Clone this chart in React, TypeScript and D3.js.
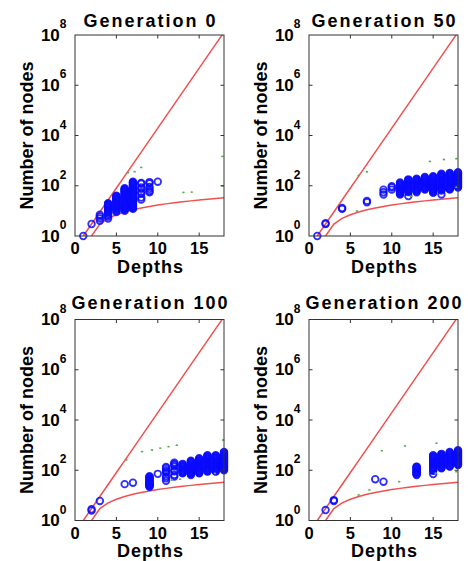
import React from "react";
import * as d3 from "d3";

const W = 468;
const H = 561;

// ---------- data ----------
const titles = ["Generation 0", "Generation 50", "Generation 100", "Generation 200"];
const depthTicks = [0, 5, 10, 15];
const yTickExponents = [0, 2, 4, 6, 8];
const depthDomain: [number, number] = [0, 18];
const nodeDomain: [number, number] = [1, 1e8];

// upper (red) bound
const upperDepths = [1, 2, 3, 4, 5, 6, 7, 8, 9, 10, 11, 12, 13, 14, 15, 16, 17, 18];
const upperBound = [
  1, 3, 9, 27, 81, 243, 729, 2187, 6561, 19683, 59049, 177147, 531441, 1594323,
  4782969, 14348907, 43046721, 129140163,
];
// lower (red) bound
const lowerDepths = [2, 3, 4, 5, 6, 7, 8, 9, 10, 11, 12, 13, 14, 15, 16, 17, 18];
const lowerBound = [1, 3, 5, 7, 9, 11, 13, 15, 17, 19, 21, 23, 25, 27, 29, 31, 33];

type Column = [number, number[]];

const gen0Nodes: Column[] = [
  [1, [1]],
  [2, [3]],
  [3, [4, 5, 6, 7]],
  [4, [5, 6, 7, 8, 9, 10, 11, 12, 13, 14, 15, 16, 17, 18, 19, 20]],
  [5, [9, 10, 11, 12, 13, 14, 15, 16, 17, 18, 19, 20, 22, 24, 26, 28, 30, 32, 34, 36, 38, 40]],
  [6, [10, 11, 12, 13, 14, 15, 16, 17, 18, 19, 20, 22, 24, 26, 28, 30, 32, 35, 38, 41, 44, 48, 52, 56, 60, 65, 70, 75, 80]],
  [7, [12, 13, 14, 15, 16, 17, 18, 19, 20, 22, 24, 26, 28, 30, 32, 35, 38, 41, 44, 48, 52, 56, 60, 65, 70, 75, 80, 86, 92, 100, 108, 116, 125, 135, 145]],
  [8, [28, 34, 48, 55, 75, 85, 120, 130]],
  [9, [55, 62, 75, 90, 125, 140]],
  [10, [145]],
];
const gen50Nodes: Column[] = [
  [1, [1]],
  [2, [3, 3.2]],
  [4, [12, 13]],
  [7, [22, 25]],
  [9, [45, 55, 70]],
  [10, [70, 85, 95]],
  [11, [45, 48, 52, 56, 60, 65, 70, 75, 80, 86, 92, 100, 108, 116, 125, 135]],
  [12, [39, 56, 60, 65, 70, 75, 80, 86, 92, 100, 108, 116, 125, 135, 145, 156, 168, 180]],
  [13, [55, 60, 65, 70, 75, 80, 86, 92, 100, 108, 116, 125, 135, 145, 156, 168, 180, 190]],
  [14, [70, 75, 80, 86, 92, 100, 108, 116, 125, 135, 145, 156, 168, 180, 195, 210, 225]],
  [15, [52, 56, 60, 65, 70, 75, 80, 86, 92, 100, 108, 116, 125, 135, 145, 156, 168, 180, 195, 210, 225, 240]],
  [16, [45, 65, 70, 75, 80, 86, 92, 100, 108, 116, 125, 135, 145, 156, 168, 180, 195, 210, 225, 242, 260, 280, 300]],
  [17, [70, 75, 80, 86, 92, 100, 108, 116, 125, 135, 145, 156, 168, 180, 195, 210, 225, 242, 260, 280, 300, 325]],
  [18, [85, 92, 100, 108, 116, 125, 135, 145, 156, 168, 180, 195, 210, 225, 242, 260, 280, 300, 325, 348]],
];
const gen100Nodes: Column[] = [
  [2, [2.5, 2.8]],
  [3, [6]],
  [6, [28]],
  [7, [32]],
  [9, [22, 23, 24, 25, 26, 27, 28, 30, 32, 34, 36, 38, 40, 43, 46, 50, 54, 58]],
  [10, [72]],
  [11, [38, 48, 56, 80, 88, 100, 120, 135]],
  [12, [56, 65, 90, 100, 140, 160, 180, 200]],
  [13, [76, 80, 86, 92, 100, 108, 116, 125, 135, 145, 156, 168, 180]],
  [14, [65, 70, 75, 80, 86, 92, 100, 108, 116, 125, 135, 145, 156, 168, 180, 195, 210, 225, 240]],
  [15, [76, 80, 86, 92, 100, 108, 116, 125, 135, 145, 156, 168, 180, 195, 210, 225, 242, 260, 280, 300]],
  [16, [88, 92, 100, 108, 116, 125, 135, 145, 156, 168, 180, 195, 210, 225, 242, 260, 280, 300, 325, 350, 375, 400]],
  [17, [88, 92, 100, 108, 116, 125, 135, 145, 156, 168, 180, 195, 210, 225, 242, 260, 280, 300, 325, 350, 375, 400]],
  [18, [100, 108, 116, 125, 135, 145, 156, 168, 180, 195, 210, 225, 242, 260, 280, 300, 325, 350, 375, 400, 430, 465, 500, 540]],
];
const gen200Nodes: Column[] = [
  [2, [2.6]],
  [3, [6, 6.5]],
  [8, [44]],
  [9, [35]],
  [13, [65, 70, 75, 80, 86, 92, 100, 108, 116, 125, 135, 140]],
  [15, [71, 96, 100, 108, 116, 125, 135, 145, 156, 168, 180, 195, 210, 225, 242, 260, 280, 300, 325, 350, 375, 400]],
  [16, [120, 125, 135, 145, 156, 168, 180, 195, 210, 225, 242, 260, 280, 300, 325, 350, 375, 400, 430, 450]],
  [17, [140, 145, 156, 168, 180, 195, 210, 225, 242, 260, 280, 300, 325, 350, 375, 400, 430, 465, 500, 540]],
  [18, [160, 168, 180, 195, 210, 225, 242, 260, 280, 300, 325, 350, 375, 400, 430, 465, 500, 540, 580, 625]],
];

type Pt = [number, number];
const gen0Extra: Pt[] = [[6.4, 331], [7.2, 363], [8.0, 537], [13.1, 54], [14.1, 56], [17.8, 1480], [17.8, 98]];
const gen50Extra: Pt[] = [[6.0, 257], [7.0, 360], [5.8, 10], [14.6, 930], [16.3, 1110], [17.8, 1200], [12.3, 38], [17.8, 88]];
const gen100Extra: Pt[] = [[6.2, 257], [8.1, 550], [9.3, 640], [10.3, 760], [11.3, 870], [12.3, 1000], [11.7, 41], [12.7, 44], [17.9, 1600], [16.9, 75]];
const gen200Extra: Pt[] = [[8.8, 600], [11.6, 930], [15.4, 1200], [10.9, 35], [7.3, 16.5], [6.0, 10.4], [15.3, 76], [17.8, 88]];

const nodeSets = [gen0Nodes, gen50Nodes, gen100Nodes, gen200Nodes];
const extraSets = [gen0Extra, gen50Extra, gen100Extra, gen200Extra];

// ---------- layout ----------
const PW = 149;
const PH = 201;
const panelLeft = [75, 309, 75, 309];
const panelTop = [35, 35, 319.5, 319.5];
const titleGap = [8.5, 8.5, 11, 11];
const xlabelGap = [36.5, 36.5, 36.5, 36.5];

const FONT = "'Liberation Sans', Arial, Helvetica, sans-serif";
const RED = "#f05050";
const BLUE = "#0a0aff";
const GREEN = "#55b055";
const AXIS = "#333";

function Panel({ i }: { i: number }) {
  const left = panelLeft[i];
  const top = panelTop[i];
  const x = d3.scaleLinear().domain(depthDomain).range([left, left + PW]);
  const y = d3.scaleLog().domain(nodeDomain).range([top + PH, top]);
  const line = d3
    .line<[number, number]>()
    .x((d) => x(d[0]))
    .y((d) => y(d[1]));
  const upper = line(upperDepths.map((d, k) => [d, upperBound[k]] as [number, number])) || "";
  const lower = line(lowerDepths.map((d, k) => [d, lowerBound[k]] as [number, number])) || "";
  const clipId = `clip${i}`;
  const bottom = top + PH;
  const right = left + PW;
  const cx = left + PW / 2;
  const cy = top + PH / 2;
  return (
    <g>
      <defs>
        <clipPath id={clipId}>
          <rect x={left} y={top} width={PW} height={PH} />
        </clipPath>
      </defs>
      <g clipPath={`url(#${clipId})`}>
        <path d={upper} fill="none" stroke={RED} strokeWidth={1.5} />
        <path d={lower} fill="none" stroke={RED} strokeWidth={1.5} />
      </g>
      {nodeSets[i].map(([d, vals]) =>
        vals.map((v, k) => (
          <circle
            key={`${d}-${k}`}
            cx={x(d)}
            cy={y(v)}
            r={3.3}
            fill="none"
            stroke={BLUE}
            strokeOpacity={0.85}
            strokeWidth={1.8}
          />
        ))
      )}
      {extraSets[i].map(([d, v], k) => (
        <ellipse key={k} cx={x(d)} cy={y(v)} rx={1.3} ry={0.9} fill={GREEN} />
      ))}
      {/* box */}
      <rect x={left} y={top} width={PW} height={PH} fill="none" stroke={AXIS} strokeWidth={1} />
      {/* x ticks */}
      {depthTicks.map((t) => (
        <g key={`xt${t}`}>
          {t > 0 && (
            <>
              <line x1={x(t)} x2={x(t)} y1={bottom} y2={bottom - 3.5} stroke={AXIS} />
              <line x1={x(t)} x2={x(t)} y1={top} y2={top + 3.5} stroke={AXIS} />
            </>
          )}
          <text
            x={x(t)}
            y={bottom + 18}
            textAnchor="middle"
            fontFamily={FONT}
            fontWeight="bold"
            fontSize={16.5}
            fill="#000"
          >
            {t}
          </text>
        </g>
      ))}
      {/* y ticks */}
      {yTickExponents.map((e) => {
        const ty = y(Math.pow(10, e));
        return (
          <g key={`yt${e}`}>
            {e > 0 && e < 8 && (
              <>
                <line x1={left} x2={left + 3.5} y1={ty} y2={ty} stroke={AXIS} />
                <line x1={right} x2={right - 3.5} y1={ty} y2={ty} stroke={AXIS} />
              </>
            )}
            <text
              x={left - 8.5}
              y={ty + 5.5}
              textAnchor="end"
              fontFamily={FONT}
              fontWeight="bold"
              fontSize={17}
              fill="#000"
            >
              <tspan>10</tspan>
              <tspan dy={-12.5} fontSize={12}>
                {e}
              </tspan>
            </text>
          </g>
        );
      })}
      {/* title */}
      <text
        x={cx + 1}
        y={top - titleGap[i]}
        textAnchor="middle"
        fontFamily={FONT}
        fontWeight="bold"
        fontSize={18}
        letterSpacing={2}
        fill="#000"
      >
        {titles[i]}
      </text>
      {/* x label */}
      <text
        x={cx + 1}
        y={bottom + xlabelGap[i]}
        textAnchor="middle"
        fontFamily={FONT}
        fontWeight="bold"
        fontSize={18}
        letterSpacing={1}
        fill="#000"
      >
        Depths
      </text>
      {/* y label */}
      <text
        transform={`translate(${left - 42},${cy}) rotate(-90)`}
        textAnchor="middle"
        fontFamily={FONT}
        fontWeight="bold"
        fontSize={18}
        fill="#000"
      >
        Number of nodes
      </text>
    </g>
  );
}

export default function App() {
  return (
    <svg
      width={W}
      height={H}
      viewBox={`0 0 ${W} ${H}`}
      style={{ position: "absolute", left: 0, top: 0, background: "#fff" }}
    >
      <rect x={0} y={0} width={W} height={H} fill="#fff" />
      {[0, 1, 2, 3].map((i) => (
        <Panel key={i} i={i} />
      ))}
    </svg>
  );
}
